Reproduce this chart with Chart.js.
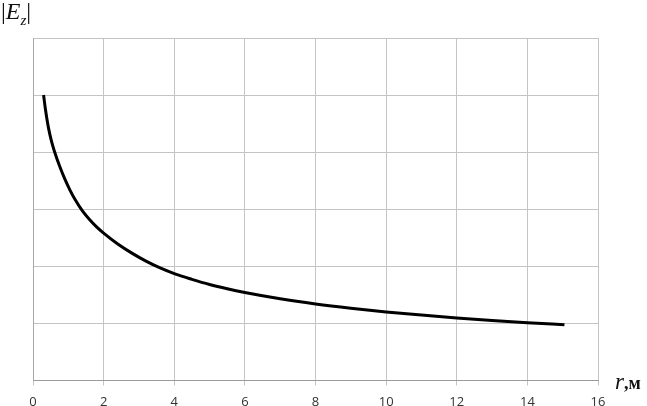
<!DOCTYPE html>
<html>
<head>
<meta charset="utf-8">
<script src="https://cdn.jsdelivr.net/npm/chart.js@4"></script>
<style>
  body { margin: 0; background: #fff; overflow: hidden; }
  #wrap { position: relative; width: 647px; height: 406px; overflow: hidden; }
  .lbl { position: absolute; font-family: 'Liberation Serif', 'DejaVu Serif', serif; color: #111; white-space: nowrap; }
  #ytitle { left: 1px; top: -2px; font-size: 24px; }
  #xtitle { left: 615px; top: 369px; font-size: 23px; }
</style>
</head>
<body>
<div id="wrap">
  <canvas id="chart" width="647" height="411"></canvas>
  <div class="lbl" id="ytitle">|<i>E</i><sub style="font-size:15px"><i>z</i></sub>|</div>
  <div class="lbl" id="xtitle"><i>r</i><span style="font-size:18px;font-weight:bold">,м</span></div>
</div>
<script>
const ctx = document.getElementById('chart')

// r, m
const rValues = [0.3, 0.35, 0.4, 0.45, 0.5, 0.56, 0.62, 0.75, 0.9, 1.05, 1.2, 1.4, 1.6, 1.8, 2, 2.4, 2.8, 3.2, 3.6, 4, 4.5, 5, 5.5, 6, 7, 8, 9, 10, 11, 12, 13, 14, 15.05]
// |Ez|, arbitrary units (grid step = 1)
const ezValues = [5.0, 4.76, 4.56, 4.39, 4.25, 4.11, 3.99, 3.76, 3.53, 3.33, 3.16, 2.97, 2.82, 2.69, 2.58, 2.39, 2.23, 2.09, 1.97, 1.87, 1.77, 1.68, 1.605, 1.54, 1.43, 1.34, 1.265, 1.2, 1.145, 1.095, 1.05, 1.01, 0.975]
const xTicks = [0, 2, 4, 6, 8, 10, 12, 14, 16]

const points = rValues.map((r, i) => ({ x: r, y: ezValues[i] }))

const lineGraph = new Chart(ctx, {
   type: 'line',
   data: {
      datasets: [{
         data: points,
         borderColor: '#000',
         borderWidth: 3,
         pointRadius: 0,
         fill: false,
         cubicInterpolationMode: 'monotone'
      }]
   },
   options: {
      responsive: false,
      animation: false,
      layout: { padding: { left: 33, right: 49, top: 38, bottom: -8 } },
      plugins: { legend: { display: false }, tooltip: { enabled: false } },
      scales: {
         x: {
            type: 'linear',
            min: 0,
            max: 16,
            afterBuildTicks: axis => { axis.ticks = xTicks.map(v => ({ value: v })) },
            grid: { color: '#c4c4c4', tickLength: 5, lineWidth: 1 },
            border: { color: '#9a9a9a' },
            ticks: { color: '#333', font: { family: 'Open Sans', size: 13 }, padding: 9, maxRotation: 0 }
         },
         y: {
            min: 0,
            max: 6,
            ticks: { display: false, stepSize: 1 },
            grid: { color: '#c4c4c4', drawTicks: false, lineWidth: 1 },
            border: { color: '#a8a8a8' }
         }
      }
   }
})
</script>
</body>
</html>
